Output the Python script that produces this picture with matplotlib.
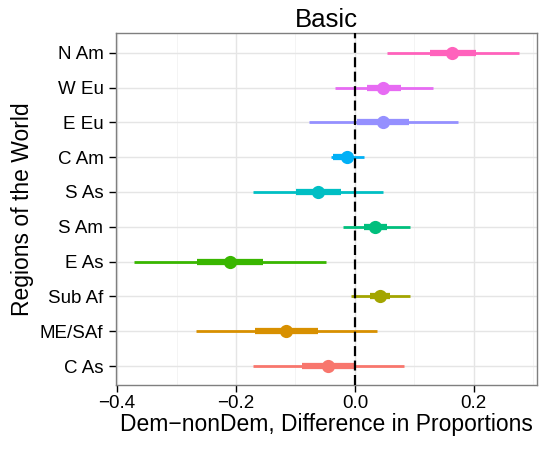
import numpy as np
import matplotlib
matplotlib.use("Agg")
from matplotlib import pyplot as plt

plt.rcParams['font.family'] = ['Liberation Sans', 'DejaVu Sans']

# regions, bottom to top
regions = ["C As", "ME/SAf", "Sub Af", "E As", "S Am", "S As", "C Am", "E Eu", "W Eu", "N Am"]
estimate = [-0.045, -0.116, 0.042, -0.210, 0.034, -0.062, -0.014, 0.047, 0.048, 0.164]
lo_outer = [-0.171, -0.268, -0.007, -0.371, -0.020, -0.171, -0.040, -0.078, -0.033, 0.054]
hi_outer = [0.082, 0.038, 0.092, -0.049, 0.092, 0.048, 0.015, 0.174, 0.132, 0.276]
lo_inner = [-0.089, -0.168, 0.026, -0.266, 0.016, -0.099, -0.037, 0.004, 0.021, 0.126]
hi_inner = [-0.001, -0.062, 0.059, -0.154, 0.054, -0.023, -0.003, 0.091, 0.078, 0.204]
colors = ["#F8766D", "#D89000", "#A3A500", "#39B600", "#00BF7D",
          "#00BFC4", "#00B0F6", "#9590FF", "#E76BF3", "#FF62BC"]

fig = plt.figure(figsize=(5.39, 4.51), dpi=100)
ax = fig.add_axes([0.215, 0.146, 0.781, 0.781])

ypos = np.arange(1, len(regions) + 1)

# grid like theme_bw
for v in [-0.3, -0.1, 0.1, 0.3]:
    ax.axvline(v, color="#F2F2F2", lw=0.6, zorder=0)
for v in [-0.4, -0.2, 0.0, 0.2]:
    ax.axvline(v, color="#E5E5E5", lw=1.0, zorder=0)
for y in ypos:
    ax.axhline(y, color="#E5E5E5", lw=1.0, zorder=0)

for i in range(len(regions)):
    ax.plot([lo_outer[i], hi_outer[i]], [ypos[i], ypos[i]], color=colors[i],
            lw=2.0, solid_capstyle="butt", zorder=2)
    ax.plot([lo_inner[i], hi_inner[i]], [ypos[i], ypos[i]], color=colors[i],
            lw=4.5, solid_capstyle="butt", zorder=3)
    ax.plot(estimate[i], ypos[i], "o", color=colors[i], ms=9.5, mec="none", zorder=4)

ax.axvline(0, color="black", lw=1.6, ls=(0, (4.5, 2)), zorder=5)

ax.set_xlim(-0.402, 0.306)
ax.set_ylim(0.45, 10.57)
ax.set_xticks([-0.4, -0.2, 0.0, 0.2])
ax.set_xticklabels(["\u22120.4", "\u22120.2", "0.0", "0.2"])
ax.set_yticks(ypos)
ax.set_yticklabels(regions)
ax.tick_params(axis="both", labelsize=13.5, length=5, width=1, color="black", pad=2)
ax.tick_params(axis="y", pad=4)

for s in ax.spines.values():
    s.set_color("#7F7F7F")
    s.set_linewidth(1.0)

ax.set_xlabel("Dem\u2212nonDem, Difference in Proportions", fontsize=16.5, labelpad=1)
ax.set_ylabel("Regions of the World", fontsize=16.5, labelpad=4)
ax.set_title("Basic", fontsize=18.5, pad=4)

fig.savefig("out.png", dpi=100)
